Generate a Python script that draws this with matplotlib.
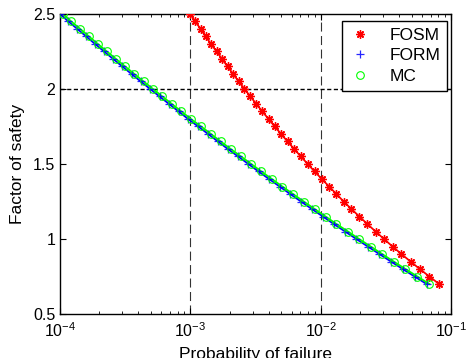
import matplotlib
matplotlib.use("Agg")
import matplotlib.pyplot as plt

# factor of safety levels (same for all three methods)
fs = [2.5, 2.45, 2.4, 2.35, 2.3, 2.25, 2.2, 2.15, 2.1, 2.05, 2.0, 1.95, 1.9,
      1.85, 1.8, 1.75, 1.7, 1.65, 1.6, 1.55, 1.5, 1.45, 1.4, 1.35, 1.3, 1.25,
      1.2, 1.15, 1.1, 1.05, 1.0, 0.95, 0.9, 0.85, 0.8, 0.75, 0.7]

# probability of failure
pf_fosm = [0.000999, 0.00109, 0.0012, 0.00131, 0.00144, 0.00159, 0.00175,
           0.00193, 0.00213, 0.00235, 0.0026, 0.00289, 0.00321, 0.00357,
           0.00398, 0.00444, 0.00497, 0.00557, 0.00626, 0.00705, 0.00795,
           0.00899, 0.0102, 0.0116, 0.0132, 0.015, 0.0172, 0.0198, 0.0228,
           0.0264, 0.0306, 0.0356, 0.0416, 0.0489, 0.0576, 0.0682, 0.0811]
pf_form = [0.0001, 0.000116, 0.000136, 0.000159, 0.000186, 0.000218,
           0.000256, 0.000301, 0.000354, 0.000417, 0.000492, 0.000581,
           0.000687, 0.000814, 0.000962, 0.00115, 0.00137, 0.00163, 0.00194,
           0.00233, 0.00279, 0.00334, 0.00402, 0.00484, 0.00584, 0.00706,
           0.00856, 0.0104, 0.0126, 0.0154, 0.0188, 0.023, 0.0282, 0.0346,
           0.0426, 0.0526, 0.065]
pf_mc = [0.000105, 0.000122, 0.000143, 0.000167, 0.000195, 0.000229,
         0.000269, 0.000316, 0.000372, 0.000438, 0.000517, 0.00061,
         0.000721, 0.000855, 0.00101, 0.00121, 0.00144, 0.00171, 0.00204,
         0.00245, 0.00293, 0.00351, 0.00422, 0.00508, 0.00613, 0.00741,
         0.00899, 0.0109, 0.0132, 0.0162, 0.0197, 0.0242, 0.0296, 0.0363,
         0.0447, 0.0552, 0.0683]

xticks = [1e-4, 1e-3, 1e-2, 1e-1]
yticks = [0.5, 1, 1.5, 2, 2.5]

plt.rcParams['font.family'] = ['Liberation Sans', 'DejaVu Sans']
plt.rcParams['mathtext.fontset'] = 'custom'
plt.rcParams['mathtext.rm'] = 'Liberation Sans'
plt.rcParams['mathtext.it'] = 'Liberation Sans'
plt.rcParams['font.size'] = 11.5
plt.rcParams['lines.scale_dashes'] = False

fig = plt.figure(figsize=(4.66, 3.58), dpi=100)
ax = fig.add_axes([0.1288, 0.1229, 0.8390, 0.8380])

# reference lines
ax.axvline(1e-3, color='#333333', lw=0.8, ls=(0, (6.5, 3.2)), zorder=1)
ax.axvline(1e-2, color='#333333', lw=0.8, ls=(0, (6.5, 3.2)), zorder=1)
ax.axhline(2.0, color='black', lw=1.0, ls=(0, (3, 1.8)), zorder=1)

# asterisk like matlab '*'
star = (8, 2, 0)

# markers (these carry the legend)
ax.plot(pf_fosm, fs, ls='none', marker=star, ms=6, mew=1.0, color='red',
        mec='red', label='FOSM', zorder=3)
ax.plot(pf_form, fs, ls='none', marker='+', ms=5.5, mew=0.9, color='blue',
        alpha=0.85, label='FORM', zorder=3)
ax.plot(pf_mc, fs, ls='none', marker='o', ms=5.5, mew=0.8, mfc='none',
        mec=(0, 1, 0), label='MC', zorder=4)

# connecting lines
ax.plot(pf_fosm, fs, color='red', lw=1.3, zorder=2)
ax.plot(pf_form, fs, color='blue', lw=1.3, zorder=2)
ax.plot(pf_mc, fs, color=(0, 1, 0), lw=1.3, zorder=2.5)

ax.set_xscale('log')
ax.set_xlim(1e-4, 1e-1)
ax.set_ylim(0.5, 2.5)
ax.set_xticks(xticks)
ax.set_xticklabels(['$10^{-4}$', '$10^{-3}$', '$10^{-2}$', '$10^{-1}$'])
ax.set_yticks(yticks)
ax.set_yticklabels(['0.5', '1', '1.5', '2', '2.5'])
ax.tick_params(which='both', direction='in', top=True, right=True)
ax.tick_params(which='major', length=4, width=0.8)
ax.tick_params(which='minor', length=2.5, width=0.6)
ax.tick_params(axis='x', which='major', pad=5.5)
ax.tick_params(axis='y', which='major', pad=3.5)
for s in ax.spines.values():
    s.set_linewidth(1.0)

ax.set_xlabel('Probability of failure', fontsize=12.5, labelpad=4.5)
ax.set_ylabel('Factor of safety', fontsize=12.5, labelpad=6)

leg = ax.legend(loc='upper right', bbox_to_anchor=(0.99, 0.977), fancybox=False,
                framealpha=1, edgecolor='black', handlelength=1.2,
                handletextpad=1.1, borderpad=0.4, labelspacing=0.3,
                borderaxespad=0, fontsize=12.5)
leg.get_frame().set_linewidth(1.0)

fig.savefig('out.png', dpi=100)
